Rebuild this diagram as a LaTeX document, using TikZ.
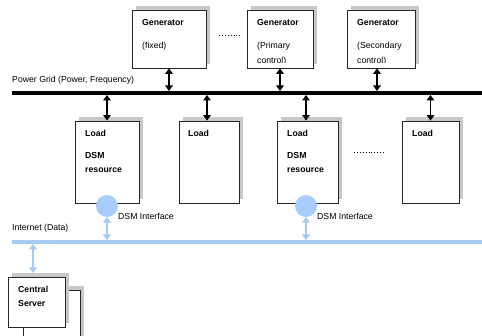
\documentclass[tikz,border=0pt]{standalone}
\usepackage{fontspec}
\setmainfont{Liberation Sans}
\usetikzlibrary{arrows.meta,shadows}
\definecolor{netblue}{HTML}{A3CBF5}
\definecolor{ifblue}{HTML}{A8CDFA}
\definecolor{shade}{HTML}{C8C8C8}
\begin{document}
\begin{tikzpicture}[x=1pt,y=-1pt,
  font=\fontsize{8.7}{10}\selectfont,
  unit/.style={draw=black!85, line width=0.8pt, fill=white, inner sep=0pt,
    general shadow={fill=shade, shadow xshift=4pt, shadow yshift=4pt}},
  lbl/.style={anchor=west, inner sep=0pt},
  bl/.style={lbl, font=\fontsize{8.7}{10}\selectfont\bfseries},
  pwr/.style={line width=1.8pt, {Triangle[length=5.5pt,width=7.5pt]}-{Triangle[length=5.5pt,width=7.5pt]}},
  dat/.style={draw=netblue, line width=1.8pt, {Triangle[length=5.5pt,width=8pt]}-{Triangle[length=5.5pt,width=8pt]}},
  dotline/.style={line width=1pt, dash pattern=on 1pt off 1.9pt},
  iface/.style={circle, fill=ifblue, minimum size=22pt, inner sep=0pt}]
\useasboundingbox (0,0) rectangle (482,336);

% buses
\coordinate (gridL) at (12,93);  \coordinate (gridR) at (482,93);
\coordinate (netL)  at (12,242); \coordinate (netR)  at (482,242);
\draw[line width=4pt] (gridL) -- (gridR);
\draw[netblue, line width=4pt] (netL) -- (netR);
\coordinate (gridT) at (0,91);  \coordinate (gridB) at (0,95);
\coordinate (netT)  at (0,240); \coordinate (netB)  at (0,244);
\node[lbl, anchor=south west] at (12,85) {Power Grid (Power, Frequency)};
\node[lbl, anchor=south west] at (12,233) {Internet (Data)};

% generators
\node[unit, minimum width=74pt, minimum height=58pt] (g1) at (169,39) {};
\node[unit, minimum width=66pt, minimum height=58pt] (g2) at (280,39) {};
\node[unit, minimum width=68pt, minimum height=58pt] (g3) at (381,39) {};
\node[bl] at (142,23) {Generator};
\node[lbl] at (142,46) {(fixed)};
\node[bl] at (257,23) {Generator};
\node[bl] at (357,23) {Generator};
\begin{scope}
  \clip (240,0) rectangle (420,62.5);
  \node[lbl] at (257,46) {(Primary};
  \node[lbl] at (257,61) {control)};
  \node[lbl] at (357,46) {(Secondary};
  \node[lbl] at (357,61) {control)};
\end{scope}
\draw[dotline] (219,36) -- (242,36);

\draw[pwr] (g1.south) -- (g1.south |- gridT);
\draw[pwr] (g2.south) -- (g2.south |- gridT);
\draw[pwr] ([xshift=-4pt]g3.south) -- ([xshift=-4pt]g3.south |- gridT);

% loads
\node[unit, minimum width=64pt, minimum height=82pt] (l1) at (107,162) {};
\node[unit, minimum width=60pt, minimum height=82pt] (l2) at (209,162) {};
\node[unit, minimum width=61pt, minimum height=82pt] (l3) at (307.5,162) {};
\node[unit, minimum width=57pt, minimum height=82pt] (l4) at (430.5,162) {};
\node[bl] at (85,133) {Load};
\node[bl] at (85,156) {DSM};
\node[bl] at (85,170) {resource};
\node[bl] at (188,133) {Load};
\node[bl] at (287,133) {Load};
\node[bl] at (287,156) {DSM};
\node[bl] at (287,170) {resource};
\node[bl] at (412,133) {Load};
\draw[dotline] (354,153) -- (385,153);

\draw[pwr] (l1.north |- gridB) -- (l1.north);
\draw[pwr] ([xshift=-2pt]l2.north |- gridB) -- ([xshift=-2pt]l2.north);
\draw[pwr] ([xshift=-1.5pt]l3.north |- gridB) -- ([xshift=-1.5pt]l3.north);
\draw[pwr] (l4.north |- gridB) -- (l4.north);

% DSM interfaces
\node[iface] (c1) at (107,206) {};
\node[iface] (c2) at (306,206) {};
\node[lbl] at (118,216) {DSM Interface};
\node[lbl] at (317,216) {DSM Interface};
\draw[dat] (c1.south) -- (c1.south |- netT);
\draw[dat] (c2.south) -- (c2.south |- netT);

% central server
\begin{scope}
  \clip (0,250) rectangle (482,336);
  \node[unit, minimum width=57pt, minimum height=54pt] (s2) at (51.5,317) {};
  \node[unit, minimum width=57pt, minimum height=50pt] (s1) at (36.5,302) {};
\end{scope}
\node[bl] at (18,289) {Central};
\node[bl] at (18,304) {Server};
\coordinate (srvtop) at (33,277);
\draw[dat] (srvtop |- netB) -- ([yshift=4pt]srvtop);
\end{tikzpicture}
\end{document}
